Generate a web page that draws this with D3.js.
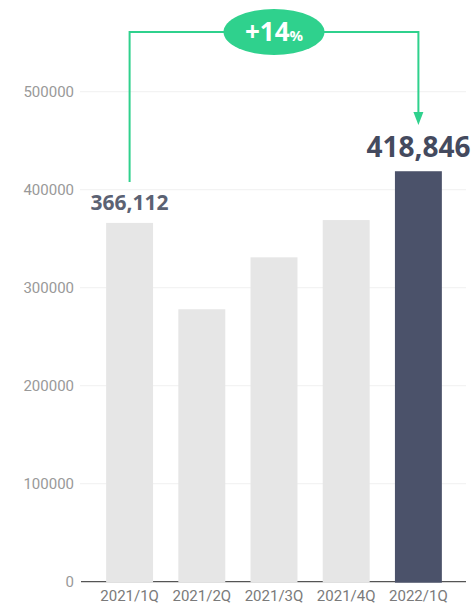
<!DOCTYPE html>
<html><head><meta charset="utf-8">
<script src="https://cdn.jsdelivr.net/npm/d3@7"></script>
<style>html,body{margin:0;padding:0;background:#fff;}svg{display:block;}</style>
</head><body>
<svg id="chart" width="474" height="607"></svg>
<script>
const categories = ["2021/1Q","2021/2Q","2021/3Q","2021/4Q","2022/1Q"];
const values = [366112, 278000, 331000, 369000, 418846];
const yTicks = [0, 100000, 200000, 300000, 400000, 500000];
const growthLabel = "+14";
const growthUnit = "%";
const highlightFrom = 0, highlightTo = 4;

const svg = d3.select("#chart");
const x = d3.scaleBand().domain(categories).range([93.5, 454.5]).paddingInner(0.35).paddingOuter(0.175);
const y = d3.scaleLinear().domain([0, 500000]).range([581.7, 91.7]);

// gridlines
svg.append("g").selectAll("line").data(yTicks.filter(d=>d>0)).join("line")
  .attr("x1", 80).attr("x2", 466).attr("y1", d=>y(d)).attr("y2", d=>y(d))
  .attr("stroke", "#f0f0f0").attr("stroke-width", 1);

// y axis labels
const yAxis = d3.axisLeft(y).tickValues(yTicks).tickFormat(d=>String(d)).tickSize(0).tickPadding(0);
const gy = svg.append("g").attr("transform", "translate(74,0)").call(yAxis);
gy.select(".domain").remove();
gy.selectAll("text").attr("fill", "#999999").style("font-family","Roboto, sans-serif").style("font-size","15px");

// baseline
svg.append("line").attr("x1", 81).attr("x2", 466).attr("y1", y(0)).attr("y2", y(0))
  .attr("stroke", "#555").attr("stroke-width", 1.2);

// bars
svg.append("g").selectAll("rect").data(values).join("rect")
  .attr("x", (d,i)=>x(categories[i])).attr("width", x.bandwidth())
  .attr("y", d=>y(d)).attr("height", d=>y(0)-y(d)+1)
  .attr("fill", (d,i)=> i===categories.length-1 ? "#4b526a" : "#e6e6e6");

// x axis labels
const xAxis = d3.axisBottom(x).tickSize(0).tickPadding(0);
const gx = svg.append("g").attr("transform", `translate(0,${y(0)+9})`).call(xAxis);
gx.select(".domain").remove();
gx.selectAll("text").attr("fill", "#7a7a7a").style("font-family","Roboto, sans-serif").style("font-size","15px");

// value labels
const fmt = d3.format(",");
const cx0 = x(categories[highlightFrom]) + x.bandwidth()/2;
const cx1 = x(categories[highlightTo]) + x.bandwidth()/2;
svg.append("text").attr("x", cx0).attr("y", y(values[highlightFrom]) - 13)
  .attr("text-anchor","middle").attr("fill","#5b6273")
  .style("font-family","'Open Sans', sans-serif").style("font-weight","700").style("font-size","21px")
  .text(fmt(values[highlightFrom]));
svg.append("text").attr("x", cx1).attr("y", y(values[highlightTo]) - 14.5)
  .attr("text-anchor","middle").attr("fill","#444a5e")
  .style("font-family","'Open Sans', sans-serif").style("font-weight","700").style("font-size","28px")
  .text(fmt(values[highlightTo]));

// connector
const green = "#2fd18d";
const topY = 32;
svg.append("path")
  .attr("d", `M${cx0},182 V${topY} H${cx1} V114`)
  .attr("fill","none").attr("stroke", green).attr("stroke-width", 2);
svg.append("path")
  .attr("d", `M${cx1-5},112 L${cx1+5},112 L${cx1},125 Z`).attr("fill", green);
const ecx = (cx0+cx1)/2;
svg.append("ellipse").attr("cx", ecx).attr("cy", topY).attr("rx", 50.5).attr("ry", 23).attr("fill", green);
const t = svg.append("text").attr("x", ecx).attr("y", topY+9).attr("text-anchor","middle")
  .attr("fill","#fff").style("font-family","'Open Sans', sans-serif").style("font-weight","700");
t.append("tspan").style("font-size","26px").text(growthLabel);
t.append("tspan").style("font-size","15px").text(growthUnit);
</script>
</body></html>
